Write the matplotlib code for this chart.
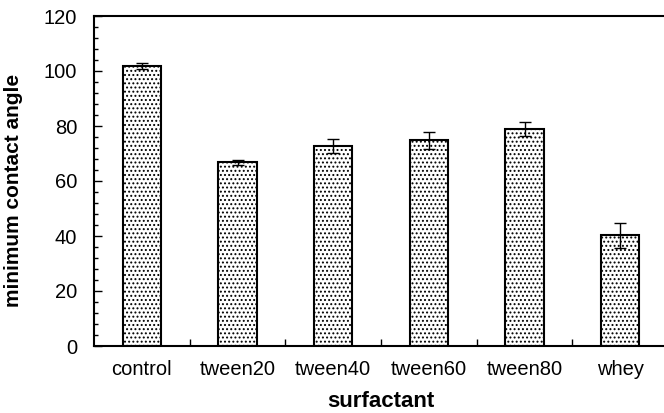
import matplotlib
matplotlib.use('Agg')
import matplotlib.pyplot as plt
import numpy as np

categories = ['control', 'tween20', 'tween40', 'tween60', 'tween80', 'whey']
angle = [101.8, 66.8, 72.8, 74.8, 79.0, 40.2]
angle_err = [1.0, 1.0, 2.5, 3.0, 2.5, 4.5]

plt.rcParams['font.family'] = ['Liberation Sans', 'DejaVu Sans']
plt.rcParams['hatch.color'] = '#444444'
plt.rcParams['hatch.linewidth'] = 0.9

fig = plt.figure(figsize=(6.64, 4.13), dpi=100)
# right spine falls just outside the picture, as in the original
ax = fig.add_axes([94 / 664, 67 / 413, 574 / 664, 330 / 413])

x = np.arange(len(categories))
ax.bar(x, angle, width=0.4, color='white', edgecolor='black', linewidth=1.5,
       hatch='....', yerr=angle_err,
       error_kw=dict(ecolor='black', elinewidth=1, capsize=4, capthick=1))

ax.set_xlim(-0.5, 5.5)
ax.set_ylim(0, 120)
ax.set_yticks(np.arange(0, 121, 20))
ax.set_yticks(np.arange(0, 121, 4), minor=True)
ax.set_xticks(x)
ax.set_xticks(np.arange(0.5, 5.0, 1.0), minor=True)
ax.set_xticklabels(categories)

for lab in ax.get_xticklabels() + ax.get_yticklabels():
    lab.set_fontsize(14.5)

ax.tick_params(axis='y', which='major', direction='in', length=6, width=1, pad=12)
ax.tick_params(axis='y', which='minor', direction='in', length=3, width=1)
ax.tick_params(axis='x', which='major', length=0, pad=10)
ax.tick_params(axis='x', which='minor', direction='in', length=5, width=1)

for s in ax.spines.values():
    s.set_linewidth(1.5)

ax.set_xlabel('surfactant', fontsize=16, fontweight='bold', labelpad=9)
ax.set_ylabel('minimum contact angle', fontsize=15, fontweight='bold')
ax.yaxis.set_label_coords(-0.124, 0.47)

fig.savefig('out.png', dpi=100)
